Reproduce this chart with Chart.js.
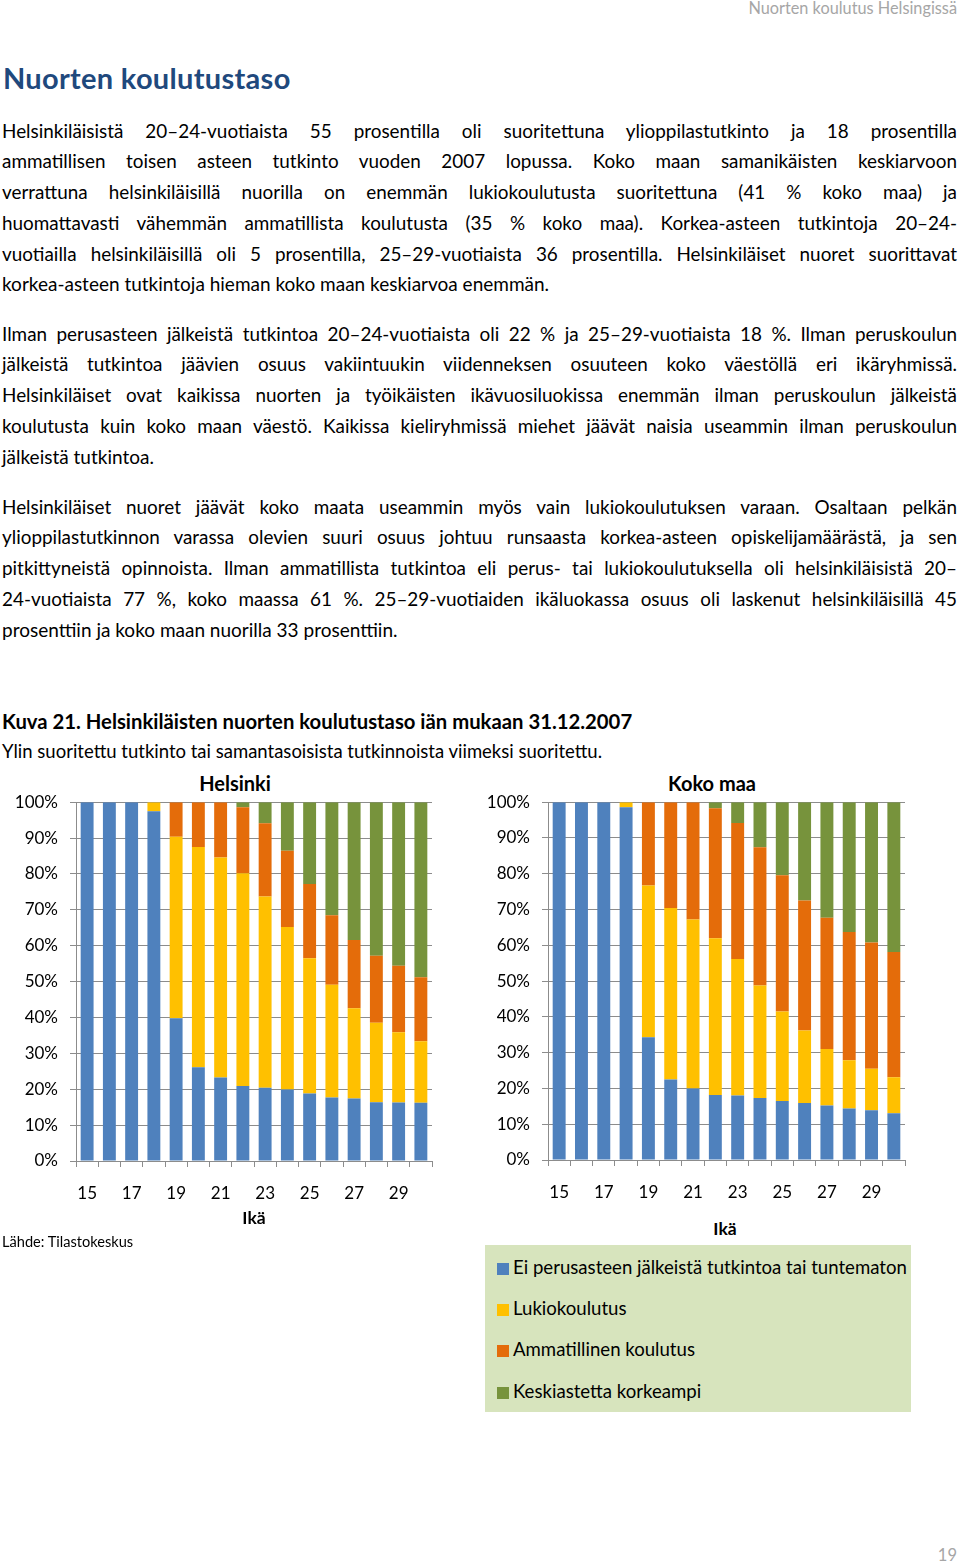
<!DOCTYPE html>
<html lang="fi">
<head>
<meta charset="utf-8">
<title>Nuorten koulutustaso</title>
<script src="https://cdn.jsdelivr.net/npm/chart.js@4.4.1/dist/chart.umd.min.js"></script>
<style>
  html, body { margin:0; padding:0; background:#fff; }
  body { width:960px; height:1562px; position:relative; overflow:hidden; font-family: Lato, "Open Sans", sans-serif; color:#000; }
  .abs { position:absolute; white-space:nowrap; }
  .line { position:absolute; left:2px; width:955px; height:31px; line-height:31px; font-size:19px; text-align:justify; }
  .line.j { text-align-last: justify; }
  #header { right:3px; top:-2px; font-size:16.3px; color:#a6a6a6; line-height:20px; }
  #title { left:3px; top:60px; font-size:29px; font-weight:bold; color:#1F497D; line-height:36px; letter-spacing:0.3px; }
  #caption { left:2px; top:707px; font-size:20.3px; font-weight:bold; line-height:28px; }
  #subcaption { left:2px; top:738px; font-size:18.5px; line-height:26px; }
  .ctitle { font-size:20px; font-weight:bold; line-height:24px; transform:translateX(-50%); }
  .xlab { font-size:17.5px; font-weight:bold; line-height:22px; transform:translateX(-50%); }
  #source { left:2px; top:1232px; font-size:14.6px; line-height:20px; }
  #legend { position:absolute; left:485px; top:1245px; width:426px; height:167px; background:#d7e4bd; }
  .litem { position:absolute; left:12px; font-size:18.6px; line-height:24px; white-space:nowrap; }
  .litem i { display:inline-block; width:12px; height:12px; margin-right:4px; vertical-align:-1px; }
  #pageno { right:3px; top:1545px; font-size:16.5px; color:#a6a6a6; line-height:20px; }
  canvas { position:absolute; }
</style>
</head>
<body>
<div id="header" class="abs">Nuorten koulutus Helsingissä</div>
<div id="title" class="abs">Nuorten koulutustaso</div>
<div id="text"></div>
<div id="caption" class="abs">Kuva 21. Helsinkiläisten nuorten koulutustaso iän mukaan 31.12.2007</div>
<div id="subcaption" class="abs">Ylin suoritettu tutkinto tai samantasoisista tutkinnoista viimeksi suoritettu.</div>

<div class="abs ctitle" style="left:235px; top:771px;">Helsinki</div>
<div class="abs ctitle" style="left:712px; top:771px;">Koko maa</div>

<div style="position:absolute; left:0; top:780px; width:442px; height:431px;"><canvas id="c1"></canvas></div>
<div style="position:absolute; left:470px; top:780px; width:445px; height:430px;"><canvas id="c2"></canvas></div>

<div class="abs xlab" style="left:254px; top:1207px;">Ikä</div>
<div class="abs xlab" style="left:725px; top:1218px;">Ikä</div>
<div id="source" class="abs">Lähde: Tilastokeskus</div>
<div id="legend"></div>
<div id="pageno" class="abs">19</div>

<script>
// ---- Data ----
const ages = ["15","16","17","18","19","20","21","22","23","24","25","26","27","28","29","30"];
const seriesNames = [
  "Ei perusasteen jälkeistä tutkintoa tai tuntematon",
  "Lukiokoulutus",
  "Ammatillinen koulutus",
  "Keskiastetta korkeampi"
];
const seriesColors = ["#4F81BD", "#FFC000", "#E46C0A", "#77933C"];

// Helsinki (% of age group)
const helEi        = [100, 100, 100, 97.5, 39.8, 26.1, 23.3, 20.9, 20.4, 19.9, 18.8, 17.7, 17.4, 16.4, 16.3, 16.2];
const helLukio     = [0,   0,   0,   2.5,  50.6, 61.4, 61.3, 59.3, 53.3, 45.3, 37.7, 31.4, 25.2, 22.1, 19.6, 17.2];
const helAmmat     = [0,   0,   0,   0,    9.6,  12.5, 15.4, 18.4, 20.4, 21.3, 20.7, 19.4, 19.0, 18.7, 18.5, 17.8];
const helKorkea    = [0,   0,   0,   0,    0,    0,    0,    1.4,  5.9,  13.5, 22.8, 31.5, 38.4, 42.8, 45.6, 48.8];

// Koko maa (% of age group)
const kokoEi       = [100, 100, 100, 98.6, 34.3, 22.5, 20.0, 18.2, 18.0, 17.3, 16.5, 15.9, 15.2, 14.4, 13.9, 13.1];
const kokoLukio    = [0,   0,   0,   1.4,  42.4, 47.9, 47.2, 43.8, 38.2, 31.5, 25.0, 20.3, 15.8, 13.5, 11.6, 10.0];
const kokoAmmat    = [0,   0,   0,   0,    23.3, 29.6, 32.8, 36.3, 38.0, 38.6, 38.1, 36.3, 36.7, 35.8, 35.3, 35.0];
const kokoKorkea   = [0,   0,   0,   0,    0,    0,    0,    1.7,  5.8,  12.6, 20.4, 27.5, 32.3, 36.3, 39.2, 41.9];

const yTicks = [0,10,20,30,40,50,60,70,80,90,100];

// ---- Body text ----
const paragraphs = [
  { top:114.5, lines:[
    "Helsinkiläisistä 20–24-vuotiaista 55 prosentilla oli suoritettuna ylioppilastutkinto ja 18 prosentilla",
    "ammatillisen toisen asteen tutkinto vuoden 2007 lopussa. Koko maan samanikäisten keskiarvoon",
    "verrattuna helsinkiläisillä nuorilla on enemmän lukiokoulutusta suoritettuna (41 % koko maa) ja",
    "huomattavasti vähemmän ammatillista koulutusta (35 % koko maa). Korkea-asteen tutkintoja 20–24-",
    "vuotiailla helsinkiläisillä oli 5 prosentilla, 25–29-vuotiaista 36 prosentilla.  Helsinkiläiset nuoret suorittavat",
    "korkea-asteen tutkintoja hieman koko maan keskiarvoa enemmän."
  ]},
  { top:317.5, lines:[
    "Ilman perusasteen jälkeistä tutkintoa 20–24-vuotiaista oli 22 % ja 25–29-vuotiaista 18 %. Ilman peruskoulun",
    "jälkeistä tutkintoa jäävien osuus vakiintuukin viidenneksen osuuteen koko väestöllä eri ikäryhmissä.",
    "Helsinkiläiset ovat kaikissa nuorten ja työikäisten ikävuosiluokissa enemmän ilman peruskoulun jälkeistä",
    "koulutusta kuin koko maan väestö. Kaikissa kieliryhmissä miehet jäävät naisia useammin ilman peruskoulun",
    "jälkeistä tutkintoa."
  ]},
  { top:490.5, lines:[
    "Helsinkiläiset nuoret jäävät koko maata useammin myös vain lukiokoulutuksen varaan. Osaltaan pelkän",
    "ylioppilastutkinnon varassa olevien suuri osuus johtuu runsaasta korkea-asteen opiskelijamäärästä, ja sen",
    "pitkittyneistä opinnoista. Ilman ammatillista tutkintoa eli perus- tai lukiokoulutuksella oli helsinkiläisistä 20–",
    "24-vuotiaista 77 %, koko maassa 61 %. 25–29-vuotiaiden ikäluokassa osuus oli laskenut helsinkiläisillä 45",
    "prosenttiin ja koko maan nuorilla 33 prosenttiin."
  ]}
];
const textEl = document.getElementById('text');
const pitch = 30.75;
const baseFont = 19;
paragraphs.forEach(p => {
  p.lines.forEach((ln, i) => {
    const d = document.createElement('div');
    d.className = 'line' + (i < p.lines.length - 1 ? ' j' : '');
    d.style.top = (p.top + i * pitch) + 'px';
    const s = document.createElement('span');
    s.style.whiteSpace = 'nowrap';
    s.textContent = ln;
    d.appendChild(s);
    textEl.appendChild(d);
    const w = s.getBoundingClientRect().width;
    if (w > 950) d.style.fontSize = (baseFont * 950 / w).toFixed(3) + 'px';
    d.textContent = ln;
  });
});

// ---- Legend (HTML, from series arrays) ----
const legendEl = document.getElementById('legend');
const legendTops = [10, 51, 92, 134];
seriesNames.forEach((n, i) => {
  const d = document.createElement('div');
  d.className = 'litem';
  d.style.top = legendTops[i] + 'px';
  d.innerHTML = '<i style="background:' + seriesColors[i] + '"></i>';
  d.appendChild(document.createTextNode(n));
  legendEl.appendChild(d);
});

// ---- Charts ----
const gridCol = '#8c8c8c';
function makeChart(id, data, yWidth) {
  const ds = data.map((arr, i) => ({
    label: seriesNames[i],
    data: arr,
    backgroundColor: seriesColors[i],
    borderWidth: 0,
    barPercentage: 0.58,
    categoryPercentage: 1.0
  }));
  return new Chart(document.getElementById(id), {
    type: 'bar',
    data: { labels: ages, datasets: ds },
    options: {
      responsive: true,
      maintainAspectRatio: false,
      animation: false,
      layout: { padding: { top: 0, right: 10, bottom: 0, left: 0 } },
      plugins: { legend: { display: false }, tooltip: { enabled: false }, title: { display: false } },
      scales: {
        x: {
          stacked: true,
          afterFit: s => { s.height = 50; },
          grid: { offset: true, drawOnChartArea: false, drawTicks: true, tickLength: 6, color: gridCol, lineWidth: 1 },
          border: { color: gridCol, width: 1 },
          ticks: {
            autoSkip: false, maxRotation: 0, padding: 16, color: '#000',
            font: { family: 'Lato', size: 17 },
            callback: (v, i) => (i % 2 === 0 ? ages[i] : '')
          }
        },
        y: {
          stacked: true, min: 0, max: 100,
          afterFit: s => { s.width = yWidth; },
          afterBuildTicks: s => { s.ticks = yTicks.map(v => ({ value: v })); },
          grid: { color: gridCol, lineWidth: 1, tickLength: 6, drawTicks: true },
          border: { color: gridCol, width: 1 },
          ticks: {
            padding: 12, color: '#000',
            font: { family: 'Lato', size: 17 },
            callback: v => v + '%'
          }
        }
      }
    }
  });
}
makeChart('c1', [helEi, helLukio, helAmmat, helKorkea], 76);
makeChart('c2', [kokoEi, kokoLukio, kokoAmmat, kokoKorkea], 78);
</script>
</body>
</html>
